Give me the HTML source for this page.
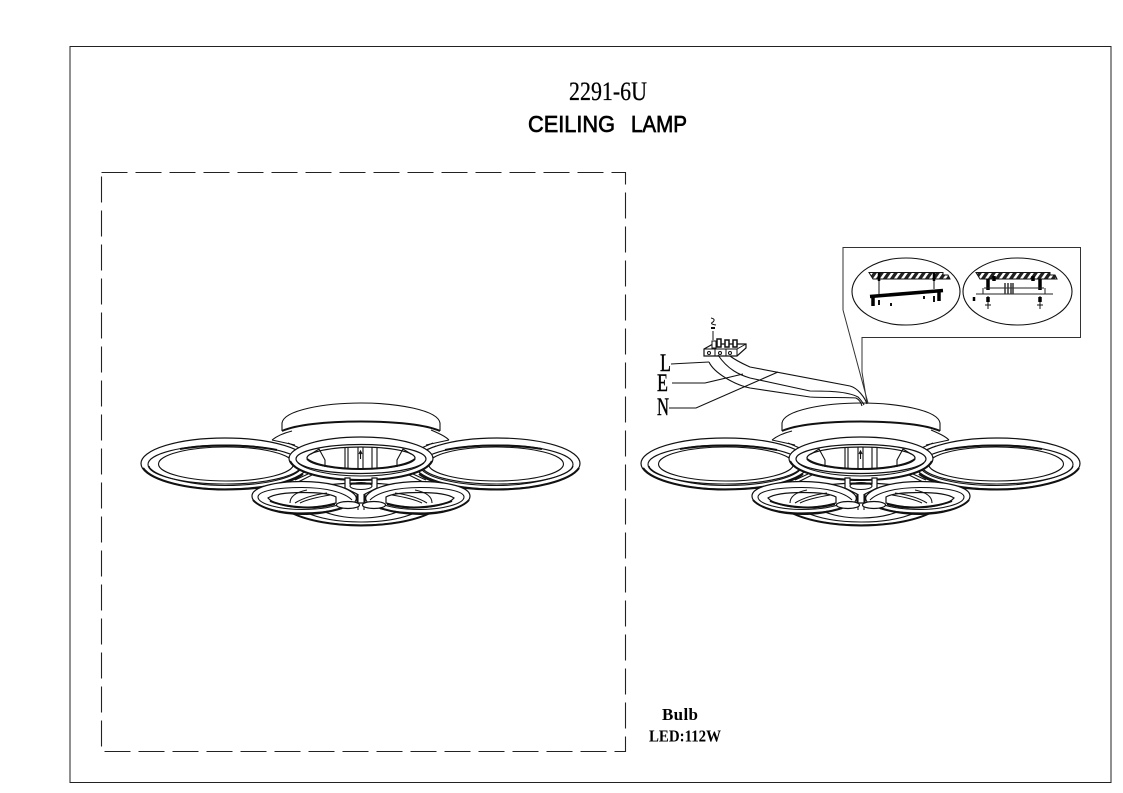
<!DOCTYPE html>
<html><head><meta charset="utf-8"><style>
html,body{margin:0;padding:0;background:#fff;width:1123px;height:793px;overflow:hidden}
svg{display:block}
.l{fill:#fff;stroke:#111;stroke-width:1.2}
.n{fill:none;stroke:#111;stroke-width:1.1}
.h{fill:none;stroke:#111;stroke-width:2}
</style></head><body>
<svg width="1123" height="793" viewBox="0 0 1123 793" xmlns="http://www.w3.org/2000/svg">
<defs>
<g id="lamp">
  <!-- canopy -->
  <path d="M282 432V423C284 410 325 403 361 403C397 403 438 410 440 423V432Z" fill="#fff"/>
  <path class="n" d="M282 431V423C284 410 325 403 361 403C397 403 438 410 440 423V431"/>
  <path class="h" d="M282 431C295 425 325 421.500 361 421.500C397 421.500 427 425 440 431"/>
  <path class="n" d="M272 440C277 436 284 433 292 431M449 440C445 436 438 433 431 430M272 440L295 445M449 440L426 445"/>
  <!-- arms -->
  <path class="n" d="M285 446L300 452M288 443L302 449M308 474L295 480M312 475L298 482M436 446L421 452M433 443L419 449M413 474L426 480M409 475L423 482"/>
  <!-- back left ring -->
  <ellipse class="l" cx="225" cy="463.500" rx="84" ry="25.500"/>
  <path class="h" d="M143 468C152 481 188 489.500 225 489.500C262 489.500 290 484 303 474"/>
  <path class="n" d="M149 466C150 474 185 485.500 225 485.500C265 485.500 292 478 300 470"/>
  <ellipse class="n" cx="225" cy="464.500" rx="77" ry="19.500"/>
  <ellipse class="n" cx="226" cy="464" rx="67.500" ry="17"/>
  <path class="h" d="M180 449C197 446 212 445.500 226 445.500C245 445.500 262 447 277 450"/>
  <!-- back right ring -->
  <ellipse class="l" cx="497" cy="463.500" rx="83" ry="25.500"/>
  <path class="h" d="M579 468C570 481 534 489.500 497 489.500C460 489.500 432 484 419 474"/>
  <path class="n" d="M573 466C572 474 537 485.500 497 485.500C457 485.500 430 478 422 470"/>
  <ellipse class="n" cx="497" cy="464.500" rx="76" ry="19.500"/>
  <ellipse class="n" cx="496" cy="464" rx="67.500" ry="17"/>
  <path class="h" d="M542 449C525 446 510 445.500 496 445.500C477 445.500 460 447 445 450"/>
  <!-- bottom ring -->
  <ellipse class="l" cx="361" cy="504" rx="76" ry="21"/>
  <path class="h" d="M292 513C308 521 335 525.500 361 525.500C387 525.500 414 521 430 513"/>
  <path class="n" d="M305 512C320 519 340 522 361 522C382 522 402 519 417 512M320 510C333 516 347 518 361 518C375 518 389 516 402 510"/>
  <!-- centre ring -->
  <ellipse class="l" cx="361" cy="458.500" rx="72" ry="21.500"/>
  <path class="h" d="M290 461C296 473 325 480 361 480C397 480 426 473 432 461"/>
  <ellipse class="l" cx="361" cy="459" rx="65" ry="14.500"/>
  <path class="n" d="M298 463C306 470 330 476 361 476C392 476 416 470 424 463"/>
  <ellipse class="l" cx="361" cy="458" rx="54" ry="11"/>
  <path class="h" d="M307 459C315 465 335 469 361 469C387 469 407 465 415 459"/>
  <path class="n" d="M345 447V467.500M348 447V468M358 447V469M363 447V469M372 447V468M377 447V467.500"/>
  <path class="n" d="M360.500 451V459M359 454L360.500 451L362 454"/>
  <path class="n" d="M311 454L319 449L325 460V467M411 454L403 449L397 460V467"/>
  <!-- stem -->
  <path class="l" d="M345 478H350V484H372V478H377V488L365 494V503H357V494L345 488Z"/>
  <ellipse class="n" cx="361" cy="486" rx="11" ry="3.500"/>
  <path class="n" d="M358 494V510M364 494V510M357 503H365"/>
  <!-- lower left ring -->
  <path class="l" d="M340 509C328 512 315 513 302 513C272 513 252 505 252 496C252 487 275 481.500 302 481.500C325 481.500 347 486 355 495C359 500 354 505 340 509Z"/>
  <path class="h" d="M253 500C260 508 280 514 302 514C316 514 330 512 342 508"/>
  <path class="n" d="M352 500C344 492 325 487.500 302 487.500C277 487.500 258 491 258 497C258 504 280 509.500 302 509.500C315 509.500 328 508 338 505"/>
  <path class="l" d="M268 498C274 494 286 492.500 303 492.500C318 492.500 331 494 336 497V503C325 506 314 507.500 303 507.500C286 507.500 272 503 268 498Z"/>
  <path class="n" d="M290 503C290 496 297 492 307 490M295 503C303 498 312 495 327 493M300 503C308 499 318 497 330 495"/>
  <path class="h" d="M270 501C280 505 295 507.500 308 507.500C318 507.500 328 506 335 504"/>
  <ellipse class="l" cx="348" cy="505" rx="11.500" ry="3.500"/>
  <!-- lower right ring -->
  <path class="l" d="M382 509C394 512 407 513 420 513C450 513 470 505 470 496C470 487 447 481.500 420 481.500C397 481.500 375 486 367 495C363 500 368 505 382 509Z"/>
  <path class="h" d="M469 500C462 508 442 514 420 514C406 514 392 512 380 508"/>
  <path class="n" d="M370 500C378 492 397 487.500 420 487.500C445 487.500 464 491 464 497C464 504 442 509.500 420 509.500C407 509.500 394 508 384 505"/>
  <path class="l" d="M454 498C448 494 436 492.500 419 492.500C404 492.500 391 494 386 497V503C397 506 408 507.500 419 507.500C436 507.500 450 503 454 498Z"/>
  <path class="n" d="M432 503C432 496 425 492 415 490M427 503C419 498 410 495 395 493M422 503C414 499 404 497 392 495"/>
  <path class="h" d="M452 501C442 505 427 507.500 414 507.500C404 507.500 394 506 387 504"/>
  <ellipse class="l" cx="374" cy="505" rx="11.500" ry="3.500"/>
</g>
<pattern id="hatch" width="7" height="7" patternUnits="userSpaceOnUse" patternTransform="skewX(-35)"><rect width="4" height="7" fill="#222"/></pattern>
</defs>
<rect width="1123" height="793" fill="#fff"/>
<rect x="70" y="46.500" width="1041" height="736" fill="none" stroke="#222" stroke-width="1"/>
<rect x="101.500" y="172.500" width="524" height="579" fill="none" stroke="#222" stroke-width="1.100" stroke-dasharray="26 8"/>
<text x="569" y="100" font-family="'Liberation Serif',serif" font-size="26" textLength="78" lengthAdjust="spacingAndGlyphs" fill="#000" stroke="#000" stroke-width=".25">2291-6U</text>
<g font-family="'Liberation Sans',sans-serif" font-size="23.500" font-weight="400" fill="#000" stroke="#000" stroke-width=".7">
<text x="528" y="132" textLength="87" lengthAdjust="spacingAndGlyphs">CEILING</text>
<text x="631" y="132" textLength="56" lengthAdjust="spacingAndGlyphs">LAMP</text>
</g>
<use href="#lamp"/>
<use href="#lamp" x="500"/>
<!-- callout -->
<path d="M843 310V247.500H1080.500V337.500H862V372M843 310L868 403M862 372L867 403" fill="none" stroke="#333" stroke-width="1"/>
<ellipse cx="906" cy="291.500" rx="54" ry="33.500" fill="#fff" stroke="#111" stroke-width="1.100"/>
<ellipse cx="1017.500" cy="291.500" rx="54.500" ry="33.500" fill="#fff" stroke="#111" stroke-width="1.100"/>
<path d="M869 272.500H943V275H948L950 279H873Z" fill="url(#hatch)" stroke="#111"/>
<path d="M976 272.500H1050V275H1055L1057 279H980Z" fill="url(#hatch)" stroke="#111"/>
<path d="M879 279V294M934 278V289" stroke="#111" fill="none"/>
<path d="M879 273V281M934 273V281" stroke="#000" stroke-width="2.500"/>
<path d="M870 296.500L943 290.500" stroke="#000" stroke-width="3.500"/>
<path d="M873 297V306M939 291V301" stroke="#000" stroke-width="3.500"/>
<path d="M879 300V305M934 296V302M891 303V306M924 296V299" stroke="#111" stroke-width="2"/>
<path d="M988 279V290M1040 279V290M994 276V281M1033 276V281" stroke="#000" stroke-width="3.500"/>
<path d="M984 288H1044M983 288V294M1045 288V294M976 294H1053" stroke="#222" fill="none"/>
<path d="M1005 283V294M1008 283V294M1011 283V294M1013 283V294" stroke="#333" stroke-width="1.500"/>
<path d="M988 296V309M1040 296V309" stroke="#111" fill="none"/>
<path d="M988 297V302M1040 297V302" stroke="#000" stroke-width="3.500"/>
<path d="M985 305H991M1037 305H1043" stroke="#111"/>
<path d="M974 297V301" stroke="#000" stroke-width="2.500"/>
<!-- terminal block -->
<path d="M704 349L713 344H746V348L737 356H704Z" fill="#fff" stroke="#111" stroke-width="1.200"/>
<path d="M704 349H737L746 344M737 349V356" fill="none" stroke="#111"/>
<path d="M715 349V356M726 349V356" stroke="#111"/>
<rect x="712" y="341" width="4" height="7" fill="#fff" stroke="#111" stroke-width="1"/>
<rect x="717" y="339" width="4" height="8" fill="#fff" stroke="#111" stroke-width="1.500"/>
<rect x="725" y="340" width="4" height="7" fill="#fff" stroke="#111" stroke-width="1.500"/>
<rect x="733" y="340" width="4" height="7" fill="#fff" stroke="#111" stroke-width="1.500"/>
<circle cx="709" cy="353" r="1.500" fill="none" stroke="#111"/><circle cx="720" cy="353" r="1.500" fill="none" stroke="#111"/><circle cx="730" cy="353" r="1.500" fill="none" stroke="#111"/>
<path d="M713 331V340" stroke="#111"/><path d="M711 318Q716 319 713 322Q709 324 716 325" fill="none" stroke="#111"/><path d="M711 328H715" stroke="#111" stroke-width="2"/>
<!-- wires -->
<path class="n" d="M709 362C714 373 735 385 750 388L810 397C825 398 845 397 856 398C860 400 861 403 862 406"/>
<path class="n" d="M718 355C728 370 740 375 750 378L810 391C825 391 847 391 858 397C861 400 863 403 864 405"/>
<path class="n" d="M730 356C738 362 748 366 750 367L850 386C858 388 865 398 867 404"/>
<path class="n" d="M671 364L680 363.500L709 362M672 383H705L743 374M669 408H696L778 372"/>
<g font-family="'Liberation Serif',serif" font-size="25" fill="#000" stroke="#000" stroke-width=".4">
<text x="660" y="371" textLength="11" lengthAdjust="spacingAndGlyphs">L</text>
<text x="657" y="391" textLength="11" lengthAdjust="spacingAndGlyphs">E</text>
<text x="657" y="415" textLength="12" lengthAdjust="spacingAndGlyphs">N</text>
</g>
<g font-family="'Liberation Serif',serif" font-size="17" font-weight="700" fill="#000">
<text x="662" y="720" textLength="36" lengthAdjust="spacing">Bulb</text>
<text x="649" y="741.500" textLength="72" lengthAdjust="spacingAndGlyphs">LED:112W</text>
</g>
</svg>
</body></html>
